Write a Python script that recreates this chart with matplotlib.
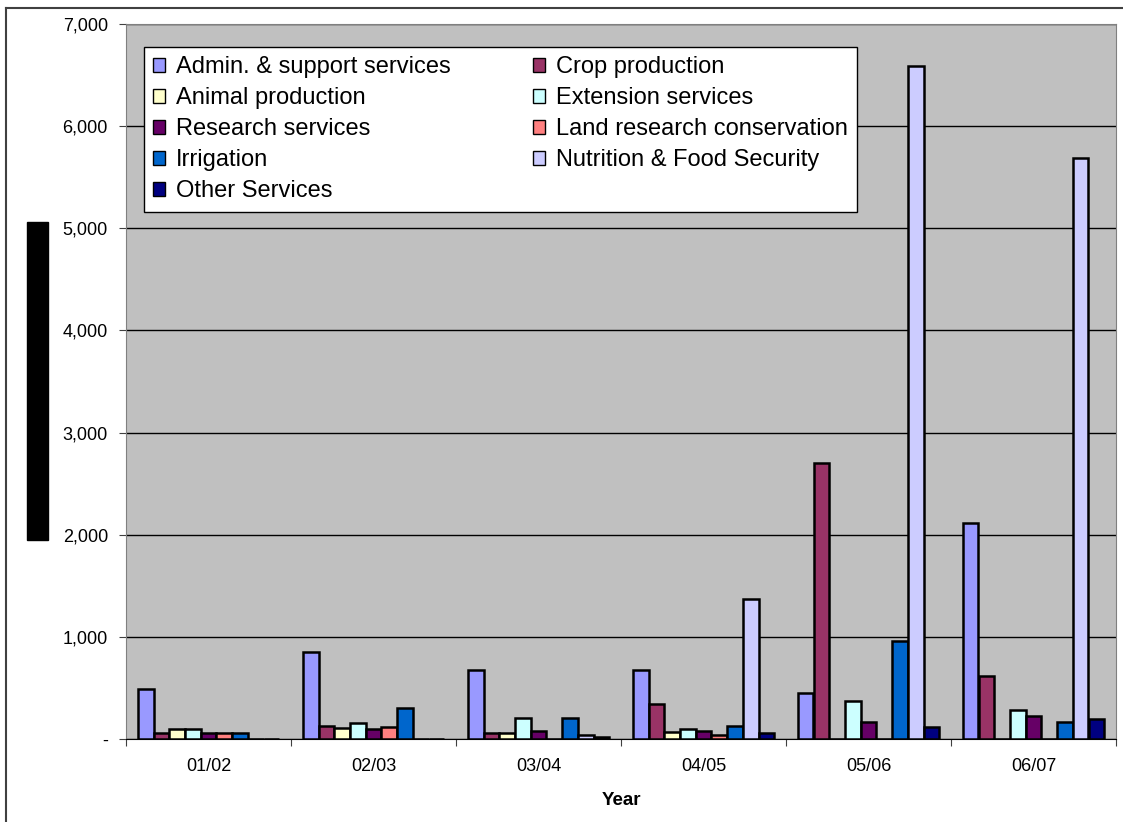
import matplotlib.pyplot as plt
from matplotlib.patches import Patch, Rectangle
from matplotlib.lines import Line2D
from matplotlib.ticker import FuncFormatter
import numpy as np

plt.rcParams['font.family'] = ['Liberation Sans', 'DejaVu Sans']

# data
years = ['01/02', '02/03', '03/04', '04/05', '05/06', '06/07']
admin = [487, 849, 676, 676, 454, 2119]
crop = [56, 130, 56, 340, 2706, 620]
animal = [95, 111, 56, 72, 0, 0]
extension = [95, 153, 209, 95, 375, 284]
research = [56, 98, 75, 78, 170, 228]
land = [56, 117, 0, 39, 0, 0]
irrigation = [56, 300, 209, 130, 960, 170]
nutrition = [0, 0, 39, 1371, 6590, 5690]
other = [0, 0, 22, 56, 121, 193]

names = ['Admin. & support services', 'Crop production', 'Animal production',
         'Extension services', 'Research services', 'Land research conservation',
         'Irrigation', 'Nutrition & Food Security', 'Other Services']
series = [admin, crop, animal, extension, research, land, irrigation, nutrition, other]
colors = ['#9999FF', '#993366', '#FFFFCC', '#CCFFFF', '#660066', '#FF8080',
          '#0066CC', '#CCCCFF', '#000080']

fig = plt.figure(figsize=(11.23, 8.22), dpi=100)
ax = fig.add_axes([126/1123, 1-739/822, 990/1123, 715/822])
ax.set_facecolor('#C0C0C0')

n = len(series)
w = 1.0 / (n + 1.5)
centers = np.arange(len(years)) + 0.5
for j, (vals, c) in enumerate(zip(series, colors)):
    ax.bar(centers + (j - (n-1)/2) * w, vals, width=w, color=c,
           edgecolor='black', linewidth=1.8, zorder=3)

ax.set_xlim(0, len(years))
ax.set_ylim(0, 7000)
ax.set_yticks(range(0, 7001, 1000))
ax.yaxis.set_major_formatter(FuncFormatter(lambda v, p: '-' if v == 0 else f'{v:,.0f}'))
ax.grid(axis='y', color='black', linewidth=1)
ax.set_axisbelow(True)

ax.set_xticks(range(len(years) + 1))
ax.set_xticklabels([])
ax.set_xticks(centers, minor=True)
ax.set_xticklabels(years, minor=True)
ax.tick_params(axis='x', which='minor', length=0, pad=14, labelsize=13)
ax.tick_params(axis='x', which='major', direction='out', length=5, color='#404040')
ax.tick_params(axis='y', direction='out', length=5, color='#404040', labelsize=13, pad=8)
ax.set_xlabel('Year', fontsize=13.5, fontweight='bold', labelpad=12)

for s in ['left', 'top', 'right']:
    ax.spines[s].set_color('#808080')
ax.spines['bottom'].set_color('black')

# legend in row order like the original
handles = [Patch(facecolor=c, edgecolor='black', linewidth=1) for c in colors]
order = [0, 2, 4, 6, 8, 1, 3, 5, 7]
leg = ax.legend([handles[i] for i in order], [names[i] for i in order], ncol=2,
                loc='upper left', bbox_to_anchor=(18/990, 1-23/715), borderaxespad=0,
                fontsize=17, frameon=True, fancybox=False, framealpha=1,
                edgecolor='black', handlelength=0.5, handleheight=0.5,
                handletextpad=0.45, columnspacing=3.5, labelspacing=0.38,
                borderpad=0.4)
leg.get_frame().set_linewidth(1)
leg.set_zorder(5)

# axis title is blacked out in the original
fig.add_artist(Rectangle((27/1123, 1-540/822), 21/1123, 318/822,
                         transform=fig.transFigure, color='black'))
# outer chart frame (only left and top visible)
fig.add_artist(Line2D([6/1123, 6/1123], [0, 1-8/822], transform=fig.transFigure,
                      color='#404040', linewidth=1.5))
fig.add_artist(Line2D([6/1123, 1], [1-8/822, 1-8/822], transform=fig.transFigure,
                      color='#404040', linewidth=1.5))

fig.savefig('out.png', dpi=100)
